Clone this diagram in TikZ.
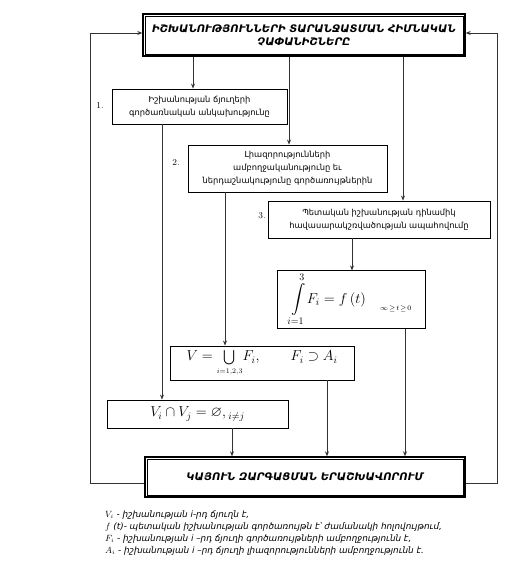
\documentclass[tikz,border=0pt]{standalone}
\usepackage{amsmath}
\usepackage{amssymb}
\usepackage{fontspec}
\newfontfamily\armfont{DejaVu Sans}
\usetikzlibrary{arrows.meta}

\tikzset{
    critbox/.style={draw, line width=0.9pt, align=center, inner sep=2pt,
        font=\armfont\fontsize{8.3}{13}\selectfont},
    mainbox/.style={draw, line width=1.4pt, align=center,
        font=\armfont\bfseries\itshape\fontsize{10.4}{13}\selectfont},
    innerline/.style={line width=0.6pt},
    mathbox/.style={draw, line width=0.9pt, inner sep=2pt},
    link/.style={->, line width=0.8pt, draw=black!80}
}

\begin{document}
\begin{tikzpicture}[x=1pt, y=-1pt, >={Stealth[length=5pt, width=4pt]}]
        \useasboundingbox (0,0) rectangle (520,582);

        % Criteria (top) and result (bottom), double framed
        \node[mainbox, minimum width=322pt, minimum height=42pt] (crit) at (304,35)
            {ԻՇԽԱՆՈՒԹՅՈՒՆՆԵՐԻ ՏԱՐԱՆՋԱՏՄԱՆ ՀԻՄՆԱԿԱՆ\\ՉԱՓԱՆԻՇՆԵՐԸ};
        \draw[innerline] ([shift={(2.6,2.6)}]crit.north west) rectangle ([shift={(-2.6,-2.6)}]crit.south east);
        \node[mainbox, minimum width=320pt, minimum height=40pt] (result) at (305,477)
            {ԿԱՅՈՒՆ ԶԱՐԳԱՑՄԱՆ ԵՐԱՇԽԱՎՈՐՈՒՄ};
        \draw[innerline] ([shift={(2.6,2.6)}]result.north west) rectangle ([shift={(-2.6,-2.6)}]result.south east);

        % Three criteria
        \node[critbox, minimum width=175pt, minimum height=35pt] (indep) at (199.5,106.5)
            {Իշխանության ճյուղերի\\գործառնական անկախությունը};
        \node at (100,105) {\small 1.};
        \node[critbox, minimum width=199pt, minimum height=47pt] (powers) at (287.5,168.5)
            {Լիազորությունների\\ամբողջականությունը եւ\\ներդաշնակությունը գործառույթներին};
        \node at (176,162) {\small 2.};
        \node[critbox, minimum width=222pt, minimum height=37pt] (balance) at (379,219.5)
            {Պետական իշխանության դինամիկ\\հավասարակշռվածության ապահովումը};
        \node at (262,216) {\small 3.};

        % Formulas
        \node[mathbox, minimum width=148pt, minimum height=53pt] (integ) at (351,299.5)
            {\Large $\displaystyle\int\limits_{i=1}^{3}\! F_i = f\,(t)$\quad
             \raisebox{-1.1ex}{\scriptsize $\infty\!\geq\! t\!\geq\! 0$}};
        \node[mathbox, minimum width=184pt, minimum height=34pt] (union) at (262,363)
            {\Large $V=\bigcup\limits_{\scriptscriptstyle i=1,2,3}\! F_i,\qquad F_i\supset A_i$};
        \node[mathbox, minimum width=181pt, minimum height=28pt] (disj) at (197.5,414)
            {\Large $V_i\cap V_j=\varnothing,{}_{\scriptstyle i\neq j}$};

        % Arrows from the criteria
        \draw[link] (crit.south -| 193,0) -- (indep.north -| 193,0);
        \draw[link] (crit.south -| 289,0) -- (powers.north -| 289,0);
        \draw[link] (crit.south -| 403,0) -- (balance.north -| 403,0);

        % Arrows to the formulas
        \draw[link] (indep.south -| 162,0) -- (disj.north -| 162,0);
        \draw[link] (powers.south -| 225,0) -- (union.north -| 225,0);
        \draw[link] (balance.south -| 352,0) -- (integ.north -| 352,0);

        % Arrows to the result
        \draw[link] (disj.south -| 232,0) -- (result.north -| 232,0);
        \draw[link] (union.south -| 327,0) -- (result.north -| 327,0);
        \draw[link] (integ.south -| 405,0) -- (result.north -| 405,0);

        % Feedback loops
        \draw[link] (result.west |- 0,483) -- (90,483) -- (90,33) -- (crit.west |- 0,33);
        \draw[link] (result.east |- 0,483) -- (497,483) -- (497,33) -- (crit.east |- 0,33);

        % Legend
        \node[anchor=north west, align=left, inner sep=0pt,
              font=\armfont\itshape\fontsize{8.8}{12}\selectfont] (legend) at (105,511)
            {$V_i$ - իշխանության i-րդ ճյուղն է,\\
             $f$ (t)- պետական իշխանության գործառույթն է՝ ժամանակի հոլովույթում,\\
             $F_i$ - իշխանության i –րդ ճյուղի գործառույթների ամբողջությունն է,\\
             $A_i$ - իշխանության i –րդ ճյուղի լիազորությունների ամբողջությունն է.};
\end{tikzpicture}
\end{document}
